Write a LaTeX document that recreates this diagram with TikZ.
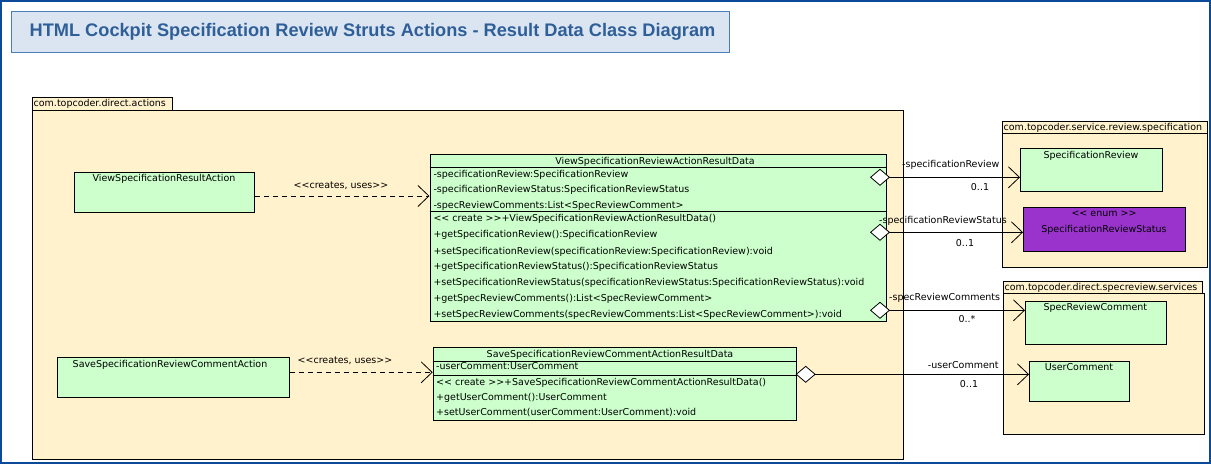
\documentclass[tikz,border=0pt]{standalone}
\usepackage{fontspec}
\setmainfont{DejaVu Sans}
\newfontfamily\titlefont{Liberation Sans}
\usetikzlibrary{arrows.meta}
\definecolor{pkgfill}{HTML}{FFF2CC}
\definecolor{clsgreen}{HTML}{CCFFCC}
\definecolor{enumpurple}{HTML}{9933CC}
\definecolor{titlefill}{HTML}{DBE5F1}
\definecolor{titleborder}{HTML}{4A7CB8}
\definecolor{titletext}{HTML}{2F5F98}
\definecolor{frameblue}{HTML}{0C4A99}
\newcommand\umlopen{<\kern0pt<}
\newcommand\umlclose{>\kern0pt>}
\begin{document}
\begin{tikzpicture}[x=1pt,y=-1pt,
  txt/.style={inner sep=0pt, font=\fontsize{9.5}{11}\selectfont},
  cls/.style={draw=black, fill=clsgreen, line width=0.9pt, inner sep=0pt, anchor=north west},
  pkg/.style={draw=black, fill=pkgfill, line width=0.9pt, inner sep=0pt, anchor=north west},
  sepline/.style={line width=0.9pt},
  dep/.style={line width=0.9pt, dash pattern=on 5pt off 4pt, -{Straight Barb[length=11pt,width=21pt,line width=0.8pt]}},
  agg/.style={line width=0.9pt, {Diamond[length=20pt,width=17pt,fill=white,line width=0.8pt]}-{Straight Barb[length=11pt,width=21pt,line width=0.8pt]}},
]
% canvas
\fill[white] (0,0) rectangle (1211,464);
\useasboundingbox (0,0) rectangle (1211,464);
\draw[frameblue, line width=2pt] (1,1) rectangle (1210,463);

% title
\node[draw=titleborder, fill=titlefill, line width=1.2pt, anchor=north west, minimum width=718pt, minimum height=41.5pt, inner sep=0pt] (titlebox) at (10.5,10.5) {};
\node[inner sep=0pt, anchor=base, text=titletext, font=\titlefont\bfseries\fontsize{18.2}{20}\selectfont] (title) at (372.5,36.7) {HTML Cockpit Specification Review Struts Actions - Result Data Class Diagram};

% packages
\node[pkg, minimum width=140pt, minimum height=13pt] (pkgAtab) at (32,97) {};
\node[pkg, minimum width=871pt, minimum height=349pt] (pkgA) at (32,110) {};
\node[txt, anchor=base west] (pkgAname) at (33.5,106.7) {com.topcoder.direct.actions};

\node[pkg, minimum width=204.7pt, minimum height=12.6pt] (pkgBtab) at (1002,120.7) {};
\node[pkg, minimum width=204.7pt, minimum height=133.4pt] (pkgB) at (1002,133.3) {};
\node[txt, anchor=base west] (pkgBname) at (1003.5,130.3) {com.topcoder.service.review.specification};

\node[pkg, minimum width=199pt, minimum height=12.3pt] (pkgCtab) at (1003,280.7) {};
\node[pkg, minimum width=201pt, minimum height=141pt] (pkgC) at (1003,293) {};
\node[txt, anchor=base west] (pkgCname) at (1004.5,290.3) {com.topcoder.direct.specreview.services};

% ViewSpecificationResultAction
\node[cls, minimum width=180pt, minimum height=40pt] (vsra) at (74,172) {};
\node[txt, anchor=base] (vsraname) at (164,181.7) {ViewSpecificationResultAction};

% ViewSpecificationReviewActionResultData
\node[cls, minimum width=456.5pt, minimum height=166.7pt] (vdata) at (429.5,154.3) {};
\node[txt, anchor=base] (vdataname) at (655,164) {ViewSpecificationReviewActionResultData};
\draw[sepline] (vdata.west |- 0,167.3) -- (vdata.east |- 0,167.3);
\draw[sepline] (vdata.west |- 0,211.7) -- (vdata.east |- 0,211.7);
\node[txt, anchor=base west] (va1) at (433.3,177) {-specificationReview:SpecificationReview};
\node[txt, anchor=base west] (va2) at (433.3,192.7) {-specificationReviewStatus:SpecificationReviewStatus};
\node[txt, anchor=base west] (va3) at (433.3,208.7) {-specReviewComments:List<SpecReviewComment>};
\node[txt, anchor=base west] (vm1) at (433.3,221.7) {\umlopen{} create \umlclose+ViewSpecificationReviewActionResultData()};
\node[txt, anchor=base west] (vm2) at (433.3,237.3) {+getSpecificationReview():SpecificationReview};
\node[txt, anchor=base west] (vm3) at (433.3,254) {+setSpecificationReview(specificationReview:SpecificationReview):void};
\node[txt, anchor=base west] (vm4) at (433.3,269.3) {+getSpecificationReviewStatus():SpecificationReviewStatus};
\node[txt, anchor=base west] (vm5) at (433.3,285) {+setSpecificationReviewStatus(specificationReviewStatus:SpecificationReviewStatus):void};
\node[txt, anchor=base west] (vm6) at (433.3,301.7) {+getSpecReviewComments():List<SpecReviewComment>};
\node[txt, anchor=base west] (vm7) at (433.3,317.7) {+setSpecReviewComments(specReviewComments:List<SpecReviewComment>):void};

% SaveSpecificationReviewCommentAction
\node[cls, minimum width=231.4pt, minimum height=40pt] (ssra) at (57.3,357.3) {};
\node[txt, anchor=base] (ssraname) at (170,367) {SaveSpecificationReviewCommentAction};

% SaveSpecificationReviewCommentActionResultData
\node[cls, minimum width=363pt, minimum height=72.7pt] (sdata) at (432.7,347.3) {};
\node[txt, anchor=base] (sdataname) at (610,357.7) {SaveSpecificationReviewCommentActionResultData};
\draw[sepline] (sdata.west |- 0,361.3) -- (sdata.east |- 0,361.3);
\draw[sepline] (sdata.west |- 0,375) -- (sdata.east |- 0,375);
\node[txt, anchor=base west] (sa1) at (436,369.7) {-userComment:UserComment};
\node[txt, anchor=base west] (sm1) at (436,385.3) {\umlopen{} create \umlclose+SaveSpecificationReviewCommentActionResultData()};
\node[txt, anchor=base west] (sm2) at (436,400.7) {+getUserComment():UserComment};
\node[txt, anchor=base west] (sm3) at (436,415.7) {+setUserComment(userComment:UserComment):void};

% external classes
\node[cls, minimum width=142pt, minimum height=43pt] (srev) at (1020,148.3) {};
\node[txt, anchor=base] (srevname) at (1091,158) {SpecificationReview};

\node[cls, fill=enumpurple, minimum width=162pt, minimum height=44pt] (senum) at (1023,207.3) {};
\node[txt, anchor=base] (senumst) at (1104,216.7) {\umlopen{} enum \umlclose};
\node[txt, anchor=base] (senumname) at (1104,232.7) {SpecificationReviewStatus};

\node[cls, minimum width=140.7pt, minimum height=42.7pt] (src) at (1025,301) {};
\node[txt, anchor=base] (srcname) at (1095.3,310) {SpecReviewComment};

\node[cls, minimum width=100pt, minimum height=40.3pt] (uc) at (1029,361) {};
\node[txt, anchor=base] (ucname) at (1079,370.7) {UserComment};

% dependencies
\draw[dep] (vsra.east |- 0,196) -- (vdata.west |- 0,196);
\node[txt, anchor=base] (dep1lbl) at (341,188) {\umlopen creates, uses\umlclose};
\draw[dep] (ssra.east |- 0,372.3) -- (sdata.west |- 0,372.3);
\node[txt, anchor=base] (dep2lbl) at (345,363.7) {\umlopen creates, uses\umlclose};

% aggregations
\coordinate (d1) at (870,177.3);
\coordinate (d2) at (870,232.3);
\coordinate (d3) at (870,310.3);
\coordinate (d4) at (795.7,374.3);
\draw[agg] (d1) -- (srev.west |- d1);
\draw[agg] (d2) -- (senum.west |- d2);
\draw[agg] (d3) -- (src.west |- d3);
\draw[agg] (d4) -- (uc.west |- d4);
\node[txt, anchor=base west] (a1role) at (902,167) {-specificationReview};
\node[txt, anchor=base] (a1mult) at (980,190.7) {0..1};
\node[txt, anchor=base west] (a2role) at (879,223.7) {-specificationReviewStatus};
\node[txt, anchor=base] (a2mult) at (965,246) {0..1};
\node[txt, anchor=base west] (a3role) at (889,300.7) {-specReviewComments};
\node[txt, anchor=base] (a3mult) at (967,322) {0..*};
\node[txt, anchor=base west] (a4role) at (927.7,368.7) {-userComment};
\node[txt, anchor=base] (a4mult) at (969,387) {0..1};
\end{tikzpicture}
\end{document}
